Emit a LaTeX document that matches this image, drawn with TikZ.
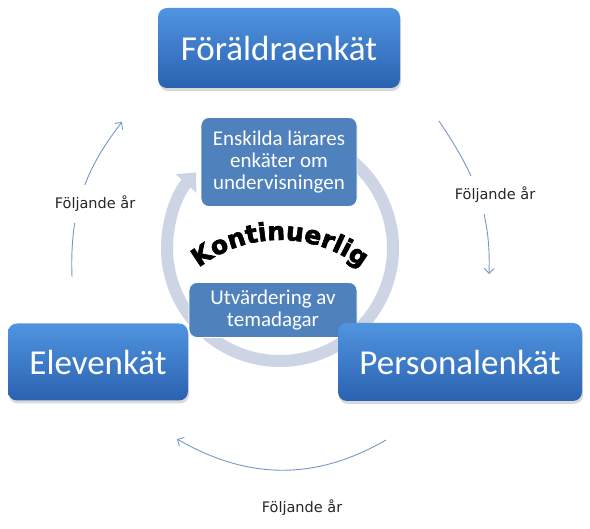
\documentclass[tikz,border=0pt]{standalone}
\usepackage{fontspec}
\setmainfont{Carlito}
\newfontfamily\labelfont{DejaVu Sans}
\newfontfamily\archfont[FakeBold=2.5,LetterSpace=4]{DejaVu Sans Bold}
\usetikzlibrary{arrows.meta,shadows,decorations.text}
\definecolor{boxtop}{RGB}{80,148,224}
\definecolor{boxbot}{RGB}{42,98,176}
\definecolor{innerblue}{RGB}{79,129,189}
\definecolor{ringgray}{RGB}{205,212,228}
\definecolor{arcblue}{RGB}{118,150,196}

\begin{document}
\begin{tikzpicture}[x=1pt, y=-1pt,
        bigbox/.style={rounded corners=9pt, top color=boxtop, bottom color=boxbot,
            text=white, inner sep=0pt, font=\fontsize{35}{40}\selectfont,
            drop shadow={shadow xshift=1pt, shadow yshift=-3pt, opacity=0.3}},
        smallbox/.style={rounded corners=8pt, fill=innerblue, draw=white, line width=0.8pt,
            text=white, inner sep=0pt, align=center, font=\fontsize{21}{22}\selectfont},
        yearlabel/.style={fill=white, inner xsep=2pt, inner ysep=11pt,
            font=\labelfont\fontsize{14.5}{16}\selectfont, text=black!85},
        yeararc/.style={draw=arcblue, line width=0.9pt, -{Straight Barb[length=5pt,width=10pt]}}]
                \useasboundingbox (0,0) rectangle (590,529);
                % ring
                \draw [ringgray, line width=12pt, -{Triangle[width=27pt,length=15pt]}]
                    (280,248) ++(-60:113) arc[start angle=-60, end angle=222, radius=113];
                % inner boxes
                \node [smallbox, minimum width=156pt, minimum height=89pt] (single) at (279,162) {Enskilda lärares\\enkäter om\\undervisningen};
                \node [smallbox, minimum width=168pt, minimum height=55pt] (theme) at (273,310) {Utvärdering av\\temadagar};
                % arch text
                \path [decorate, decoration={text along path, text align=center,
                    text={|\archfont\fontsize{25}{25}\selectfont|Kontinuerlig}}]
                    (280,372) ++(218:132) arc[start angle=218, end angle=322, radius=132];
                % outer boxes
                \node [bigbox, minimum width=242pt, minimum height=80pt] (parents) at (279,48) {Föräldraenkät};
                \node [bigbox, minimum width=180pt, minimum height=77pt] (pupils) at (98,362) {Elevenkät};
                \node [bigbox, minimum width=244pt, minimum height=78pt] (staff) at (460,362) {Personalenkät};
                % yearly arcs
                \coordinate (l1) at (72,277);
                \coordinate (l2) at (122,122);
                \coordinate (r1) at (439,121);
                \coordinate (r2) at (489,274);
                \coordinate (b1) at (386,440);
                \coordinate (b2) at (177,439);
                \draw [yeararc] (l1) to [out=92, in=232] (l2);
                \draw [yeararc] (r1) to [out=-56, in=88] (r2);
                \draw [yeararc] (b1) to [out=210, in=330] (b2);
                \node [yearlabel] (yearl) at (95,204) {Följande år};
                \node [yearlabel] (yearr) at (495,195) {Följande år};
                \node [yearlabel] (yearb) at (302,508) {Följande år};
\end{tikzpicture}
\end{document}
